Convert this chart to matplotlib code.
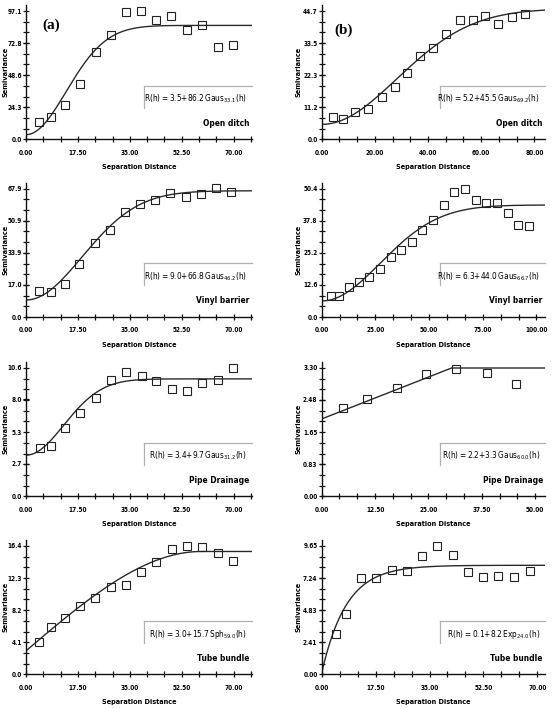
import numpy as np
import matplotlib
matplotlib.use("Agg")
import matplotlib.pyplot as plt
from matplotlib import font_manager as fm
from matplotlib.ticker import FixedLocator
from matplotlib.lines import Line2D

# ---------------- data ----------------
# (a) Open ditch
h_a_open = [4.3, 8.4, 13.1, 18.2, 23.5, 28.5, 33.6, 38.8, 43.9, 49.0, 54.2, 59.3, 64.6, 69.8]
g_a_open = [13.2, 16.5, 25.6, 41.6, 66.4, 78.9, 96.3, 97.1, 90.5, 93.3, 82.7, 86.2, 70.2, 71.0]
# (b) Open ditch
h_b_open = [4.3, 7.9, 12.6, 17.5, 22.6, 27.4, 32.2, 37.0, 41.9, 46.9, 52.0, 56.9, 61.6, 66.5, 71.6, 76.5]
g_b_open = [7.8, 7.0, 9.4, 10.6, 14.7, 18.3, 23.2, 29.1, 31.7, 36.6, 41.4, 41.4, 43.1, 40.3, 42.7, 43.5]
# (a) Vinyl barrier
h_a_vinyl = [4.3, 8.4, 13.1, 18.0, 23.3, 28.2, 33.3, 38.5, 43.6, 48.6, 53.9, 59.1, 64.0, 69.2]
g_a_vinyl = [13.5, 13.0, 17.6, 28.0, 38.9, 46.2, 55.8, 59.9, 61.8, 65.4, 63.3, 65.2, 68.1, 66.1]
# (b) Vinyl barrier
h_b_vinyl = [4.4, 7.9, 12.6, 17.4, 22.2, 27.3, 32.1, 37.1, 42.0, 46.9, 51.7, 57.0, 61.8, 66.6,
             71.7, 76.7, 81.5, 86.6, 91.4, 96.7]
g_b_vinyl = [8.3, 8.4, 11.6, 13.9, 15.6, 19.0, 23.5, 26.5, 29.4, 34.2, 38.3, 43.9, 49.0, 50.4,
             45.9, 44.6, 44.9, 41.0, 36.2, 35.9]
# (a) Pipe drainage
h_a_pipe = [4.7, 8.3, 13.1, 18.3, 23.5, 28.8, 33.6, 39.1, 44.0, 49.3, 54.2, 59.3, 64.6, 69.8]
g_a_pipe = [3.96, 4.18, 5.62, 6.91, 8.12, 9.64, 10.3, 9.94, 9.50, 8.87, 8.67, 9.39, 9.58, 10.6]
# (b) Pipe drainage
h_b_pipe = [5.0, 10.5, 17.6, 24.5, 31.5, 38.6, 45.6]
g_b_pipe = [2.27, 2.50, 2.78, 3.14, 3.28, 3.16, 2.90]
# (a) Tube bundle
h_a_tube = [4.5, 8.3, 13.2, 18.1, 23.2, 28.8, 33.6, 38.8, 44.0, 49.3, 54.2, 59.5, 64.6, 69.8]
g_a_tube = [4.17, 6.0, 7.24, 8.73, 9.8, 11.1, 11.37, 13.03, 14.35, 16.0, 16.4, 16.3, 15.5, 14.5]
# (b) Tube bundle
h_b_tube = [4.5, 8.0, 12.8, 17.6, 22.7, 27.7, 32.7, 37.5, 42.6, 47.4, 52.5, 57.4, 62.5, 67.5]
g_b_tube = [3.03, 4.54, 7.22, 7.27, 7.82, 7.79, 8.92, 9.65, 8.97, 7.67, 7.29, 7.42, 7.29, 7.74]

# fitted model parameters (nugget, sill, range, type)
models = {
    'a_open': (3.5, 86.2, 33.1, 'gaus'),
    'b_open': (5.2, 45.5, 69.2, 'gaus'),
    'a_vinyl': (9.0, 66.8, 46.2, 'gaus'),
    'b_vinyl': (6.3, 44.0, 66.7, 'gaus'),
    'a_pipe': (3.4, 9.7, 31.2, 'gaus'),
    'b_pipe': (1.99, 3.30, 30.4, 'lin'),
    'a_tube': (3.0, 15.7, 59.0, 'sph'),
    'b_tube': (0.1, 8.2, 24.0, 'exp'),
}

eq_labels = {
    'a_open': ('3.5', '86.2', 'Gaus', '33.1'),
    'b_open': ('5.2', '45.5', 'Gaus', '69.2'),
    'a_vinyl': ('9.0', '66.8', 'Gaus', '46.2'),
    'b_vinyl': ('6.3', '44.0', 'Gaus', '66.7'),
    'a_pipe': ('3.4', '9.7', 'Gaus', '31.2'),
    'b_pipe': ('2.2', '3.3', 'Gaus', '60.0'),
    'a_tube': ('3.0', '15.7', 'Sph', '59.0'),
    'b_tube': ('0.1', '8.2', 'Exp', '24.0'),
}

names = {'open': 'Open ditch', 'vinyl': 'Vinyl barrier', 'pipe': 'Pipe Drainage', 'tube': 'Tube bundle'}

yticklabels = {
    'a_open': ['0.0', '24.3', '48.6', '72.8', '97.1'],
    'b_open': ['0.0', '11.2', '22.3', '33.5', '44.7'],
    'a_vinyl': ['0.0', '17.0', '33.9', '50.9', '67.9'],
    'b_vinyl': ['0.0', '12.6', '25.2', '37.8', '50.4'],
    'a_pipe': ['0.0', '2.7', '5.3', '8.0', '10.6'],
    'b_pipe': ['0.00', '0.83', '1.65', '2.48', '3.30'],
    'a_tube': ['0.0', '4.1', '8.2', '12.3', '16.4'],
    'b_tube': ['0.00', '2.41', '4.83', '7.24', '9.65'],
}
xticklabels = {
    'a_open': ['0.00', '17.50', '35.00', '52.50', '70.00'],
    'b_open': ['0.00', '20.00', '40.00', '60.00', '80.00'],
    'a_vinyl': ['0.00', '17.50', '35.00', '52.50', '70.00'],
    'b_vinyl': ['0.00', '25.00', '50.00', '75.00', '100.00'],
    'a_pipe': ['0.00', '17.50', '35.00', '52.50', '70.00'],
    'b_pipe': ['0.00', '12.50', '25.00', '37.50', '50.00'],
    'a_tube': ['0.00', '17.50', '35.00', '52.50', '70.00'],
    'b_tube': ['0.00', '17.50', '35.00', '52.50', '70.00'],
}
xmax = {'a_open': 76.2, 'a_vinyl': 76.2, 'a_pipe': 76.2, 'a_tube': 76.2,
        'b_open': 84.0, 'b_vinyl': 104.0, 'b_pipe': 52.3, 'b_tube': 72.5}

data = {
    'a_open': (h_a_open, g_a_open), 'b_open': (h_b_open, g_b_open),
    'a_vinyl': (h_a_vinyl, g_a_vinyl), 'b_vinyl': (h_b_vinyl, g_b_vinyl),
    'a_pipe': (h_a_pipe, g_a_pipe), 'b_pipe': (h_b_pipe, g_b_pipe),
    'a_tube': (h_a_tube, g_a_tube), 'b_tube': (h_b_tube, g_b_tube),
}


# ---------------- fonts: prefer a narrow sans ----------------
def find_narrow(bold):
    best = None
    for f in fm.fontManager.ttflist:
        nm = f.name.lower()
        path = f.fname.lower()
        narrow = ('narrow' in nm or 'condensed' in nm or 'narrow' in path or 'condensed' in path
                  or f.stretch in ('condensed', 'semi-condensed', 'extra-condensed'))
        if not narrow:
            continue
        w = f.weight if isinstance(f.weight, int) else (700 if 'bold' in str(f.weight) else 400)
        if (w >= 600) != bold or f.style != 'normal':
            continue
        score = 3 if 'liberation' in nm else (2 if 'dejavu' in nm else 1)
        if best is None or score > best[0]:
            best = (score, f.fname)
    return best[1] if best else None


nb = find_narrow(True)
nr = find_narrow(False)


def FP_B(s):
    if nb:
        return fm.FontProperties(fname=nb, size=s)
    return fm.FontProperties(family=['Liberation Sans', 'DejaVu Sans'], weight='bold', size=s)


def FP_R(s):
    if nr:
        return fm.FontProperties(fname=nr, size=s)
    return fm.FontProperties(family=['Liberation Sans', 'DejaVu Sans'], size=s)


def model_curve(h, c0, sill, a, kind):
    c = sill - c0
    if kind == 'gaus':
        return c0 + c * (1 - np.exp(-3 * h ** 2 / a ** 2))
    if kind == 'exp':
        return c0 + c * (1 - np.exp(-3 * h / a))
    if kind == 'sph':
        r = np.minimum(h / a, 1.0)
        return c0 + c * (1.5 * r - 0.5 * r ** 3)
    if kind == 'lin':
        r = np.minimum(h / a, 1.0)
        return c0 + c * r
    return h


def eq_text(key):
    n0, s0, kn, rg = eq_labels[key]
    return r'$\mathregular{R(h){=}' + n0 + '{+}' + s0 + r'\,' + kn + '_{' + rg + '}(h)}$'


# ---------------- figure ----------------
W, H = 552, 709
fig = plt.figure(figsize=(W / 100, H / 100), dpi=100)
renderer = fig.canvas.get_renderer()


def fit_size(text, fp_func, target_px):
    t = fig.text(0, 0, text, fontproperties=fp_func(10.0))
    w = t.get_window_extent(renderer).width
    t.remove()
    return 10.0 * target_px / w


S_TICK = fit_size('97.1', FP_B, 14.5)
S_XLAB = fit_size('Separation Distance', FP_B, 74)
S_YLAB = fit_size('Semivariance', FP_B, 50)
S_EQ = fit_size(eq_text('a_open'), FP_R, 102)
S_NAME = fit_size('Open ditch', FP_B, 46)

col_left = {'a': 26.0, 'b': 321.7}
col_width = {'a': 226.0, 'b': 223.3}
ylab_off = {'a': -18.0, 'b': -20.5}
row_bottom = [139.3, 317.0, 496.3, 674.3]
YF = 1.045
ax_h = 128.3 * YF
rows = ['open', 'vinyl', 'pipe', 'tube']

for ri, rname in enumerate(rows):
    for col in ['a', 'b']:
        key = f'{col}_{rname}'
        left = col_left[col] / W
        bottom = (H - row_bottom[ri]) / H
        ax = fig.add_axes([left, bottom, col_width[col] / W, ax_h / H])
        h, g = data[key]
        c0, sill, a, kind = models[key]
        yl = yticklabels[key]
        xl = xticklabels[key]
        ytop = float(yl[-1])
        ax.set_xlim(0, xmax[key])
        ax.set_ylim(0, ytop * YF)

        hh = np.linspace(0, xmax[key], 400)
        ax.plot(hh, model_curve(hh, c0, sill, a, kind), color='#2a2a2a', lw=1.0, zorder=2)
        ax.plot(h, g, linestyle='none', marker='s', markersize=5.2, markerfacecolor='none',
                markeredgecolor='#222222', markeredgewidth=0.8, zorder=3, clip_on=False)

        for s in ['top', 'right']:
            ax.spines[s].set_visible(False)
        for s in ['left', 'bottom']:
            ax.spines[s].set_linewidth(1.0)
            ax.spines[s].set_color('#111111')
        yt = [float(v) for v in yl]
        xt = [float(v) for v in xl]
        ax.yaxis.set_major_locator(FixedLocator(yt))
        ax.xaxis.set_major_locator(FixedLocator(xt))
        ax.yaxis.set_minor_locator(FixedLocator(list(np.arange(0, ytop * YF, ytop / 12))))
        ax.xaxis.set_minor_locator(FixedLocator(list(np.arange(0, xmax[key], xt[1] / 3))))
        ax.tick_params(which='both', direction='inout', length=5, width=0.9, color='#111111')
        ax.tick_params(axis='y', which='major', pad=0.5)
        ax.tick_params(axis='x', which='major', pad=5.0)
        ax.set_yticklabels(yl, fontproperties=FP_B(S_TICK))
        ax.set_xticklabels(xl, fontproperties=FP_B(S_TICK))

        ax.set_ylabel('Semivariance', fontproperties=FP_B(S_YLAB))
        ax.yaxis.set_label_coords(ylab_off[col] / col_width[col], 0.5)
        ax.set_xlabel('Separation Distance', fontproperties=FP_B(S_XLAB))
        ax.xaxis.set_label_coords(0.5, -25.0 / ax_h)

        # label box (top and left edges in light grey)
        bx = 0.522 if col == 'a' else 0.53
        ax.add_line(Line2D([bx, 1.0], [0.40, 0.40], transform=ax.transAxes, color='#b0b0b0',
                           lw=0.9, clip_on=False))
        ax.add_line(Line2D([bx, bx], [0.40, 0.235], transform=ax.transAxes, color='#b0b0b0',
                           lw=0.9, clip_on=False))
        ax.text(0.978, 0.30, eq_text(key), transform=ax.transAxes, ha='right', va='center',
                fontproperties=FP_R(S_EQ))
        ax.text(0.99, 0.12, names[rname], transform=ax.transAxes, ha='right', va='center',
                fontproperties=FP_B(S_NAME))

        if ri == 0:
            tag = '(a)' if col == 'a' else '(b)'
            tx = 51 if col == 'a' else 344
            ty = 25.7 if col == 'a' else 30
            fig.text(tx / W, 1 - ty / H, tag, ha='center', va='center', fontsize=11,
                     fontweight='bold', family=['Liberation Serif', 'DejaVu Serif'])

fig.savefig('out.png', dpi=100)
